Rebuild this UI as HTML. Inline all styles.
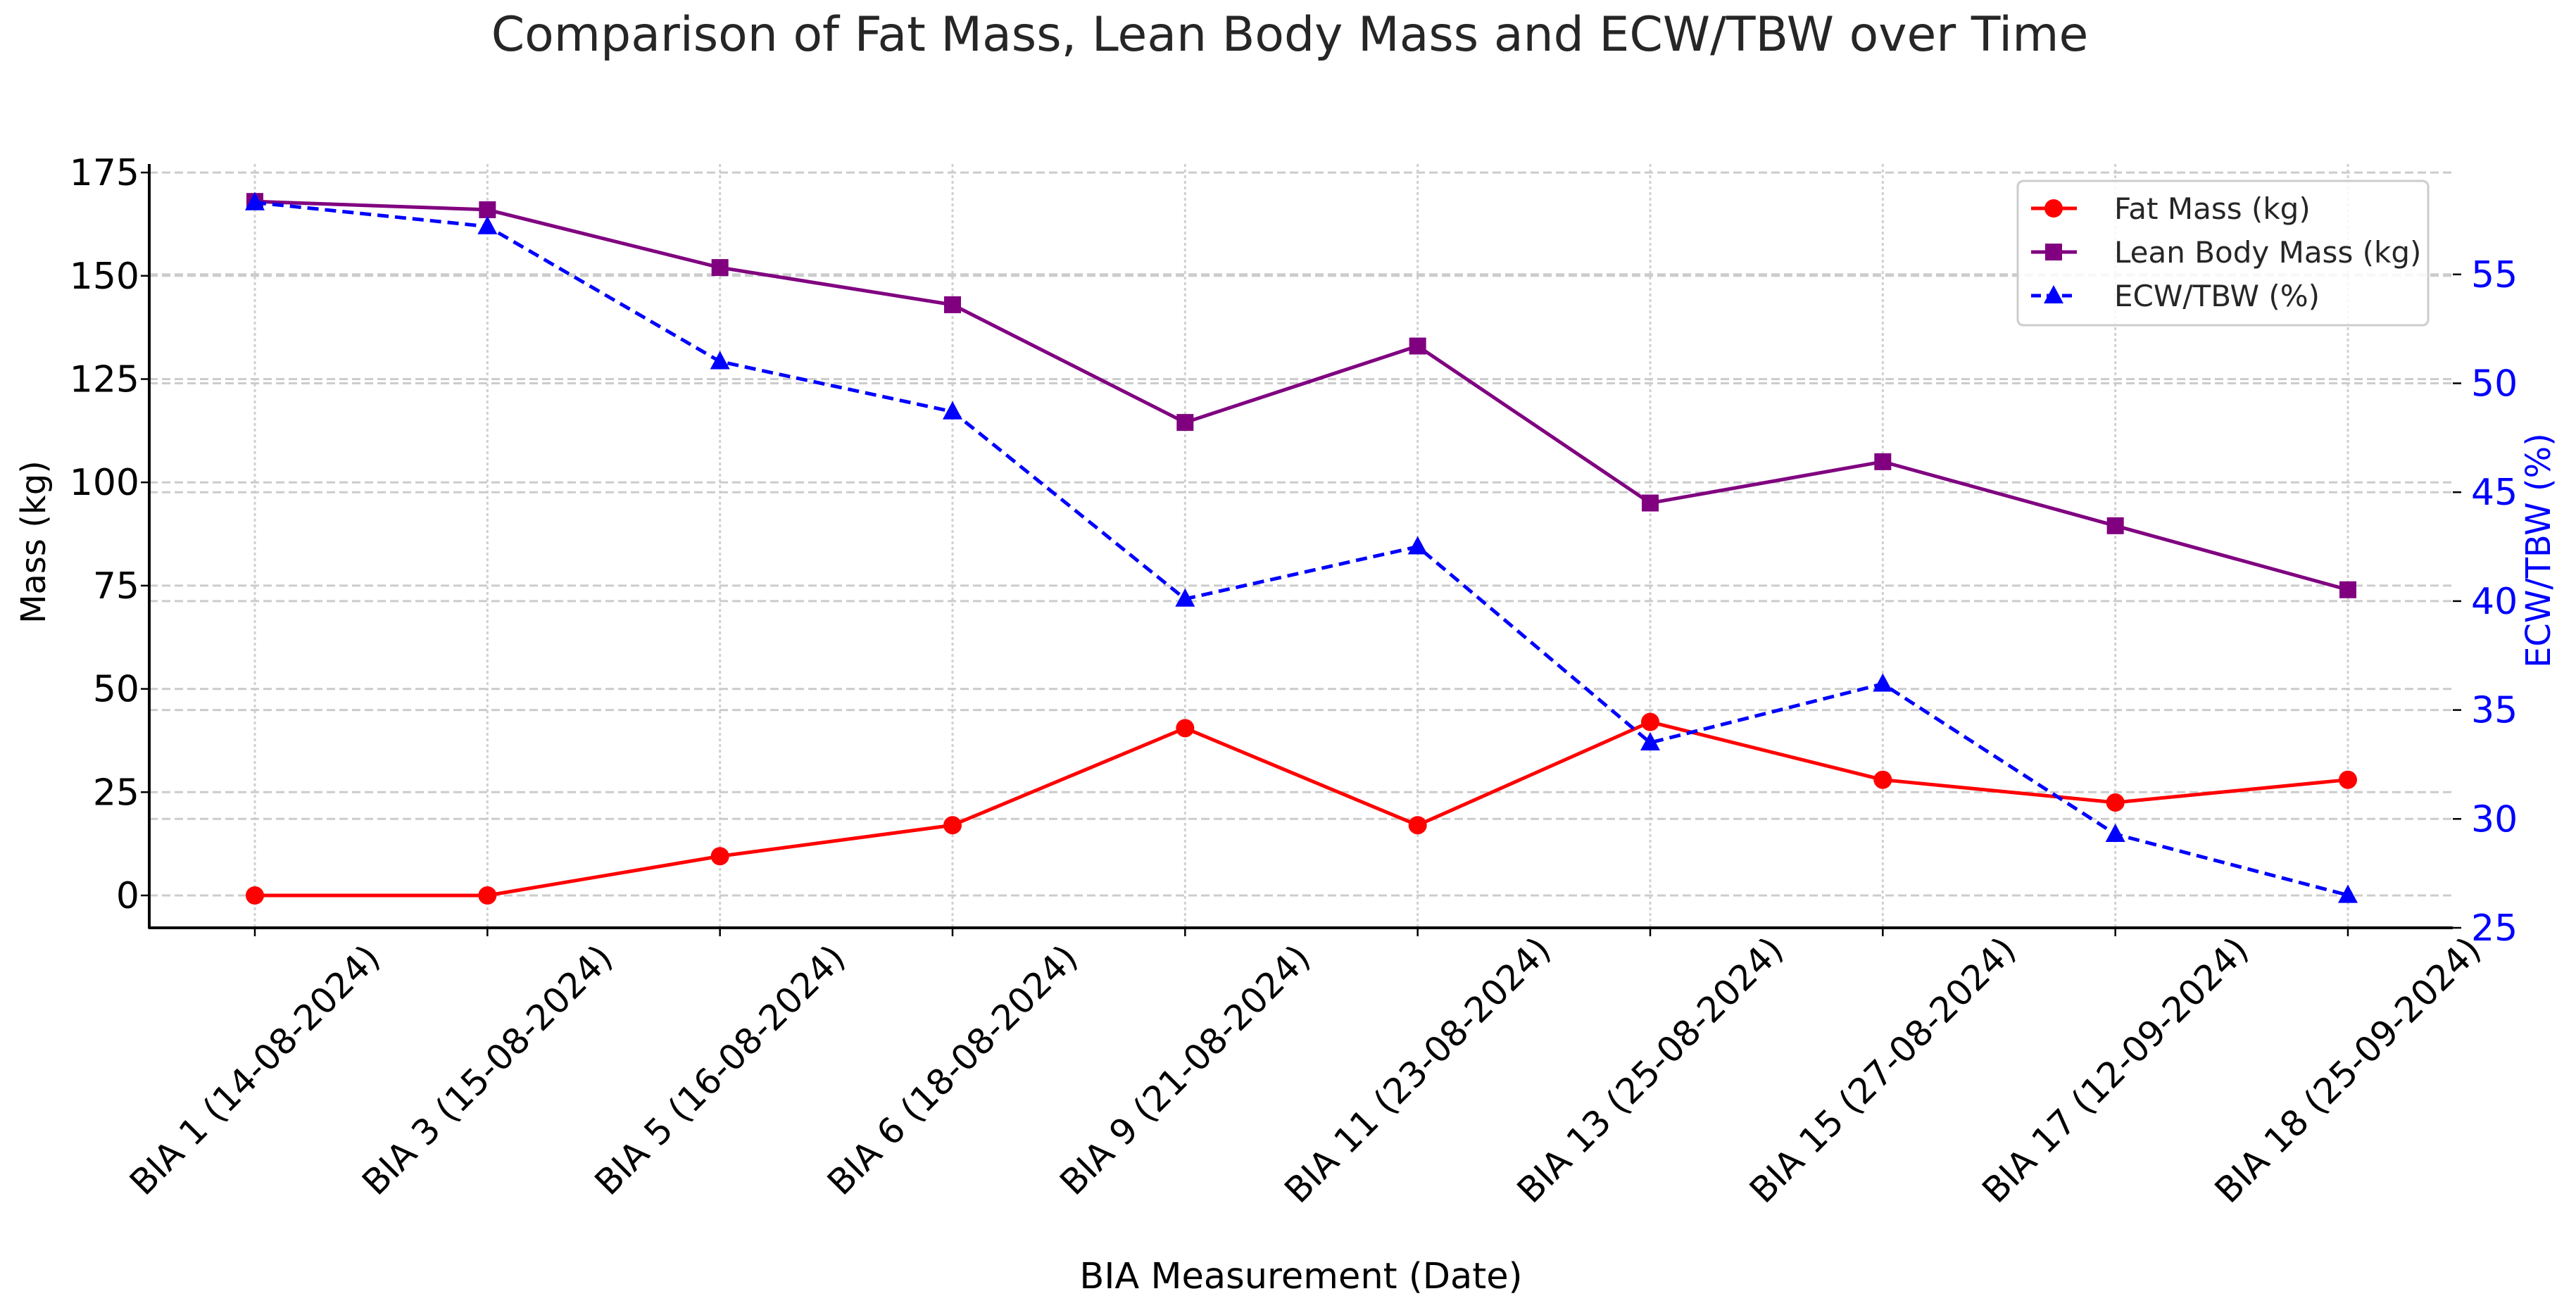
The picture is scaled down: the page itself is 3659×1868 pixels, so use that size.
<!DOCTYPE html>
<html><head><meta charset="utf-8"><style>
html,body{margin:0;padding:0;background:#fff}
svg{display:block;font-family:"DejaVu Sans","Liberation Sans",sans-serif}
</style></head><body>
<svg id="chart" width="3659" height="1868" viewBox="0 0 3659 1868">
<text x="1832" y="72" font-size="68" text-anchor="middle" fill="#262626">Comparison of Fat Mass, Lean Body Mass and ECW/TBW over Time</text>
<g id="grid"></g>
<g id="axes"></g>
<g id="series"></g>
<text x="64" y="770" font-size="48" text-anchor="middle" transform="rotate(-90 64 770)" fill="#000">Mass (kg)</text>
<text x="3622" y="782" font-size="48" text-anchor="middle" transform="rotate(-90 3622 782)" fill="#0000ff">ECW/TBW (%)</text>
<text x="1848" y="1830" font-size="51" text-anchor="middle" fill="#000">BIA Measurement (Date)</text>
<g>
<rect x="2866" y="257" width="583" height="205" rx="8" fill="#fff" fill-opacity="0.85" stroke="#ccc" stroke-width="3"/>
<g><line x1="2885" y1="296" x2="2950" y2="296" stroke="#ff0000" stroke-width="5"/><circle cx="2917" cy="296" r="13" fill="#ff0000"/><text x="3003" y="311" font-size="42" fill="#262626">Fat Mass (kg)</text></g>
<g><line x1="2885" y1="358" x2="2950" y2="358" stroke="#800080" stroke-width="5"/><rect x="2905" y="346" width="24" height="24" fill="#800080"/><text x="3003" y="373" font-size="42" fill="#262626">Lean Body Mass (kg)</text></g>
<g><line x1="2885" y1="420" x2="2950" y2="420" stroke="#0000ff" stroke-width="5" stroke-dasharray="14,8"/><polygon points="2917,405 2931,431 2903,431" fill="#0000ff"/><text x="3003" y="435" font-size="42" fill="#262626">ECW/TBW (%)</text></g>
</g>
</svg>
<script>
const categories = ["BIA 1 (14-08-2024)","BIA 3 (15-08-2024)","BIA 5 (16-08-2024)","BIA 6 (18-08-2024)","BIA 9 (21-08-2024)","BIA 11 (23-08-2024)","BIA 13 (25-08-2024)","BIA 15 (27-08-2024)","BIA 17 (12-09-2024)","BIA 18 (25-09-2024)"];
const fatMass = [0,0,9.5,17,40.5,17,42,28,22.5,28];
const leanMass = [168,166,152,143,114.5,133,95,105,89.5,74];
const ecwTbw = [58.3,57.2,51,48.7,40.1,42.5,33.5,36.2,29.3,26.5];
const leftTicks = [0,25,50,75,100,125,150,175];
const rightTicks = [25,30,35,40,45,50,55];

const NS="http://www.w3.org/2000/svg";
function mk(tag,attrs,parent){const e=document.createElementNS(NS,tag);for(const k in attrs)e.setAttribute(k,attrs[k]);parent.appendChild(e);return e;}
const X0=362, DX=(3335-362)/9;
function xs(i){return X0+i*DX;}
function yL(v){return 1272-(v/25)*146.7;}
function yR(v){return 1318-((v-25)/5)*154.7;}
const PL=212, PR=3484, PB=1318, PT=233;
const grid=document.getElementById('grid'), axes=document.getElementById('axes'), series=document.getElementById('series');

categories.forEach((c,i)=>{
  const g=mk('line',{x1:xs(i),x2:xs(i),y1:PT,y2:PB,stroke:'#d0d0d0','stroke-width':3,'stroke-dasharray':'4,4'},grid);
  
  
  const t=mk('line',{x1:xs(i),x2:xs(i),y1:PB,y2:PB+12,stroke:'#000','stroke-width':2.5},axes);
  
  
  const cy=1520;
  const l=mk('text',{x:xs(i),y:cy+17,'font-size':50,'text-anchor':'middle',fill:'#000',transform:`rotate(-45 ${xs(i)} ${cy})`},axes);
  l.textContent=c;
  
  
});
leftTicks.forEach(v=>{
  const g=mk('line',{x1:PL,x2:PR,y1:yL(v),y2:yL(v),stroke:'#cccccc','stroke-width':3,'stroke-dasharray':'12,6'},grid);
  
  
  const t=mk('line',{x1:PL-12,x2:PL,y1:yL(v),y2:yL(v),stroke:'#000','stroke-width':2.5},axes);
  
  
  const l=mk('text',{x:PL-14,y:yL(v)+18,'font-size':52,'text-anchor':'end',fill:'#000'},axes);
  l.textContent=v;
  
  
});
rightTicks.forEach(v=>{
  const g=mk('line',{x1:PL,x2:PR,y1:yR(v),y2:yR(v),stroke:'#cccccc','stroke-width':3,'stroke-dasharray':'12,6'},grid);
  
  
  const t=mk('line',{x1:PR,x2:PR+12,y1:yR(v),y2:yR(v),stroke:'#000','stroke-width':2.5},axes);
  
  
  const l=mk('text',{x:PR+26,y:yR(v)+18,'font-size':52,'text-anchor':'start',fill:'#0000ff'},axes);
  l.textContent=v;
  
  
});
const sl=mk('line',{x1:PL,x2:PL,y1:PT,y2:PB+1,stroke:'#000','stroke-width':4},axes);


const sb=mk('line',{x1:PL-1,x2:PR,y1:PB,y2:PB,stroke:'#000','stroke-width':4},axes);



function drawLine(vals,yf,color,dash,marker,name){
  const pts=vals.map((v,i)=>xs(i)+','+yf(v)).join(' ');
  const a={points:pts,fill:'none',stroke:color,'stroke-width':5,'stroke-linejoin':'round'};
  if(dash)a['stroke-dasharray']=dash;
  const p=mk('polyline',a,series);
  
  
  vals.forEach((v,i)=>{
    const x=xs(i),y=yf(v);let m;
    if(marker==='circle')m=mk('circle',{cx:x,cy:y,r:13,fill:color},series);
    else if(marker==='square')m=mk('rect',{x:x-12,y:y-12,width:24,height:24,fill:color},series);
    else m=mk('polygon',{points:`${x},${y-15} ${x+14},${y+11} ${x-14},${y+11}`,fill:color},series);
    
    
  });
}
drawLine(fatMass,yL,'#ff0000',null,'circle','fat-mass');
drawLine(leanMass,yL,'#800080',null,'square','lean-mass');
drawLine(ecwTbw,yR,'#0000ff','16,9','triangle','ecw-tbw');
</script>
</body></html>
